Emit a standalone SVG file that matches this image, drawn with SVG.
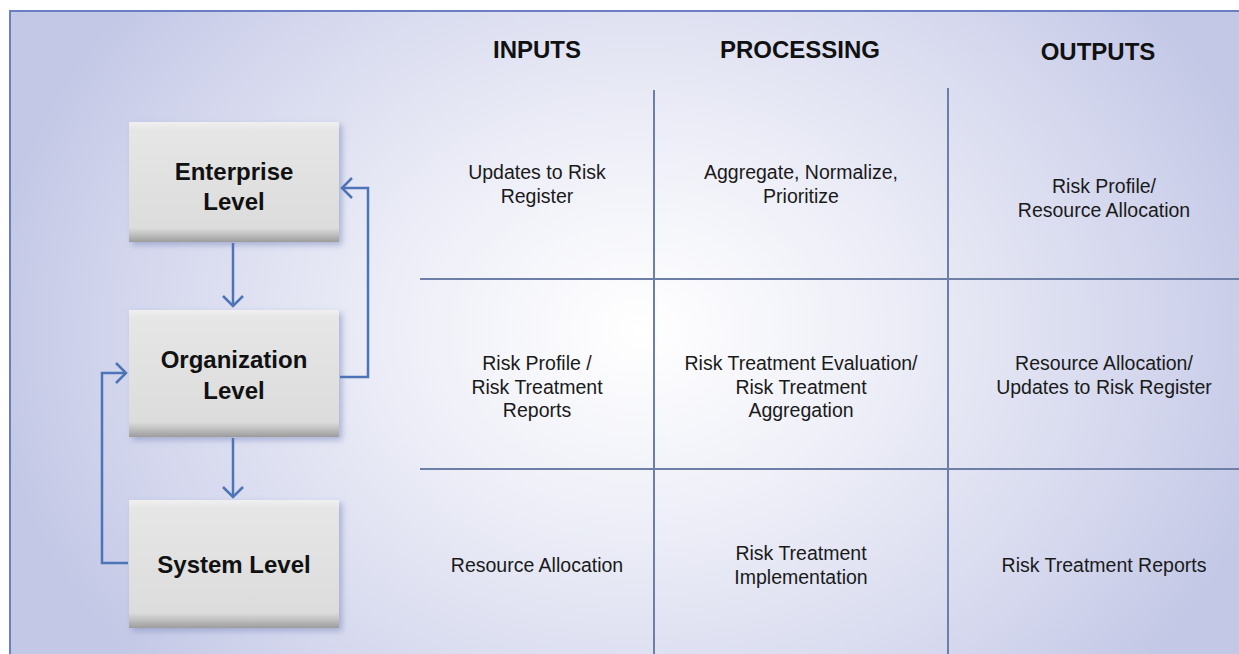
<svg xmlns="http://www.w3.org/2000/svg" width="1239" height="654" viewBox="0 0 1239 654">
<defs>
<radialGradient id="bg" gradientUnits="userSpaceOnUse" cx="640" cy="330" r="620" gradientTransform="translate(640 330) scale(1.05 0.85) translate(-640 -330)">
<stop offset="0" stop-color="#ffffff"/>
<stop offset="0.3" stop-color="#f1f2f9"/>
<stop offset="0.75" stop-color="#d6d9ee"/>
<stop offset="1" stop-color="#c3c8e6"/>
</radialGradient>
<linearGradient id="box" x1="0" y1="0" x2="0" y2="1">
<stop offset="0" stop-color="#f0f0f0"/>
<stop offset="0.06" stop-color="#e6e6e6"/>
<stop offset="0.88" stop-color="#dcdcdc"/>
<stop offset="0.93" stop-color="#c4c4c4"/>
<stop offset="1" stop-color="#9c9c9c"/>
</linearGradient>
<filter id="sh" x="-10%" y="-10%" width="125%" height="125%">
<feGaussianBlur in="SourceAlpha" stdDeviation="3"/>
<feOffset dx="3" dy="3" result="b"/>
<feFlood flood-color="#7a86b8" flood-opacity="0.55"/>
<feComposite in2="b" operator="in"/>
<feMerge><feMergeNode/><feMergeNode in="SourceGraphic"/></feMerge>
</filter>
<marker id="chev" markerWidth="14" markerHeight="22" refX="11" refY="11" orient="auto" markerUnits="userSpaceOnUse">
<path d="M1 1 L11 11 L1 21" fill="none" stroke="#4d74b6" stroke-width="2.5"/>
</marker>
<style>
.hdr{font-family:"Liberation Sans",Arial,sans-serif;font-weight:bold;font-size:24px;fill:#111;text-anchor:middle}
.lbl{font-family:"Liberation Sans",Arial,sans-serif;font-weight:bold;font-size:24px;fill:#111;text-anchor:middle}
.cell{font-family:"Liberation Sans",Arial,sans-serif;font-size:19.5px;fill:#1a1a1a;text-anchor:middle}
.grid{stroke:#6d7fa6;stroke-width:2;fill:none}
.conn{stroke:#4d74b6;stroke-width:2.5;fill:none}
.bx{fill:url(#box);filter:url(#sh)}
</style>
</defs>
<rect x="0" y="0" width="1239" height="654" fill="#ffffff"/>
<rect x="10" y="11" width="1240" height="660" fill="url(#bg)" stroke="#6a7ec2" stroke-width="2"/>

<g id="grid">
<line class="grid" x1="654" y1="90" x2="654" y2="654"/>
<line class="grid" x1="948" y1="88" x2="948" y2="654"/>
<line class="grid" x1="420" y1="279" x2="1239" y2="279"/>
<line class="grid" x1="420" y1="469" x2="1239" y2="469"/>
</g>

<g id="headers">
<text class="hdr" x="537" y="58">INPUTS</text>
<text class="hdr" x="800" y="58">PROCESSING</text>
<text class="hdr" x="1098" y="60">OUTPUTS</text>
</g>

<g id="enterprise">
<rect class="bx" x="129" y="122" width="210" height="120"/>
<text class="lbl" x="234" y="180">Enterprise</text>
<text class="lbl" x="234" y="210">Level</text>
</g>
<g id="organization">
<rect class="bx" x="129" y="310" width="210" height="127"/>
<text class="lbl" x="234" y="368">Organization</text>
<text class="lbl" x="234" y="399">Level</text>
</g>
<g id="system">
<rect class="bx" x="129" y="500" width="210" height="128"/>
<text class="lbl" x="234" y="573">System Level</text>
</g>

<g id="connectors">
<path class="conn" d="M233 243 L233 306" marker-end="url(#chev)"/>
<path class="conn" d="M233 438 L233 497" marker-end="url(#chev)"/>
<path class="conn" d="M340 377 L368 377 L368 188 L342 188" marker-end="url(#chev)"/>
<path class="conn" d="M128 563 L102 563 L102 373 L126 373" marker-end="url(#chev)"/>
</g>

<g id="cells">
<text class="cell" x="537" y="179">Updates to Risk</text>
<text class="cell" x="537" y="203">Register</text>
<text class="cell" x="801" y="179">Aggregate, Normalize,</text>
<text class="cell" x="801" y="203">Prioritize</text>
<text class="cell" x="1104" y="193">Risk Profile/</text>
<text class="cell" x="1104" y="217">Resource Allocation</text>

<text class="cell" x="537" y="370">Risk Profile /</text>
<text class="cell" x="537" y="394">Risk Treatment</text>
<text class="cell" x="537" y="417">Reports</text>
<text class="cell" x="801" y="370">Risk Treatment Evaluation/</text>
<text class="cell" x="801" y="394">Risk Treatment</text>
<text class="cell" x="801" y="417">Aggregation</text>
<text class="cell" x="1104" y="370">Resource Allocation/</text>
<text class="cell" x="1104" y="394">Updates to Risk Register</text>

<text class="cell" x="537" y="572">Resource Allocation</text>
<text class="cell" x="801" y="560">Risk Treatment</text>
<text class="cell" x="801" y="584">Implementation</text>
<text class="cell" x="1104" y="572">Risk Treatment Reports</text>
</g>
</svg>
